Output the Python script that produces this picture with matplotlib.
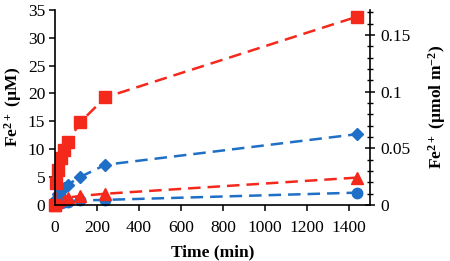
import matplotlib

matplotlib.use("Agg")
import matplotlib.pyplot as plt
from matplotlib.ticker import MultipleLocator, FuncFormatter

# sampling times (min) and Fe2+ concentrations (uM)
time_min = [0, 5, 15, 30, 45, 60, 120, 240, 1440]
red_squares = [0, 4.0, 6.3, 8.4, 9.8, 11.2, 14.8, 19.3, 33.8]
blue_diamonds = [0, 1.0, 1.9, 2.6, 3.1, 3.6, 5.0, 7.2, 12.7]
red_triangles = [0, 0.5, 0.8, 1.0, 1.2, 1.3, 1.6, 2.0, 4.9]
blue_circles = [0, 0.2, 0.3, 0.4, 0.5, 0.6, 0.8, 0.9, 2.2]

# uM -> umol m^-2 conversion implied by the two axes
UM_PER_UMOL_M2 = 203.5

RED = "#f5281c"
BLUE = "#1f6fc6"

plt.rcParams["font.family"] = ["Liberation Serif", "DejaVu Serif"]
plt.rcParams["mathtext.fontset"] = "custom"
plt.rcParams["mathtext.rm"] = "Liberation Serif"
plt.rcParams["mathtext.bf"] = "Liberation Serif:bold"
plt.rcParams["mathtext.default"] = "bf"

FS = 12.5

fig = plt.figure(figsize=(4.5, 2.61), dpi=100)
ax = fig.add_axes([0.122, 0.215, 0.700, 0.747])

series = [
    (blue_circles, BLUE, "o", 7.5),
    (red_triangles, RED, "^", 8.5),
    (blue_diamonds, BLUE, "D", 6.5),
    (red_squares, RED, "s", 8.5),
]
for vals, color, marker, ms in series:
    ax.plot(time_min, vals, color=color, lw=1.8, dashes=(5.0, 2.8),
            marker=marker, ms=ms, mec=color, mfc=color, clip_on=False)

ax.set_xlim(0, 1500)
ax.set_ylim(0, 35)
ax.xaxis.set_major_locator(MultipleLocator(200))
ax.yaxis.set_major_locator(MultipleLocator(5))
for s in ("top", "right"):
    ax.spines[s].set_visible(False)
for s in ("left", "bottom"):
    ax.spines[s].set_linewidth(1.2)
ax.tick_params(axis="both", direction="out", length=4, width=1.1,
               labelsize=FS, pad=3)
ax.tick_params(axis="x", pad=7)
ax.set_xlabel("Time (min)", fontsize=FS, fontweight="bold", labelpad=6)
ax.set_ylabel("Fe$^{2+}$ (µM)", fontsize=FS, fontweight="bold", labelpad=3)

ax2 = ax.twinx()
ax2.set_ylim(0, 35 / UM_PER_UMOL_M2)
for s in ("top", "left", "bottom"):
    ax2.spines[s].set_visible(False)
ax2.spines["right"].set_linewidth(1.2)
ax2.yaxis.set_major_locator(MultipleLocator(0.05))
ax2.yaxis.set_minor_locator(MultipleLocator(0.01))
ax2.yaxis.set_major_formatter(FuncFormatter(lambda v, p: f"{v:g}"))
ax2.tick_params(axis="y", which="major", direction="inout", length=7,
                width=1.1, labelsize=FS, pad=4)
ax2.tick_params(axis="y", which="minor", direction="inout", length=4,
                width=1.0)
ax2.set_ylabel("Fe$^{2+}$ (µmol m$^{-2}$)", fontsize=FS,
               fontweight="bold", labelpad=11)

fig.savefig("out.png", dpi=100)
